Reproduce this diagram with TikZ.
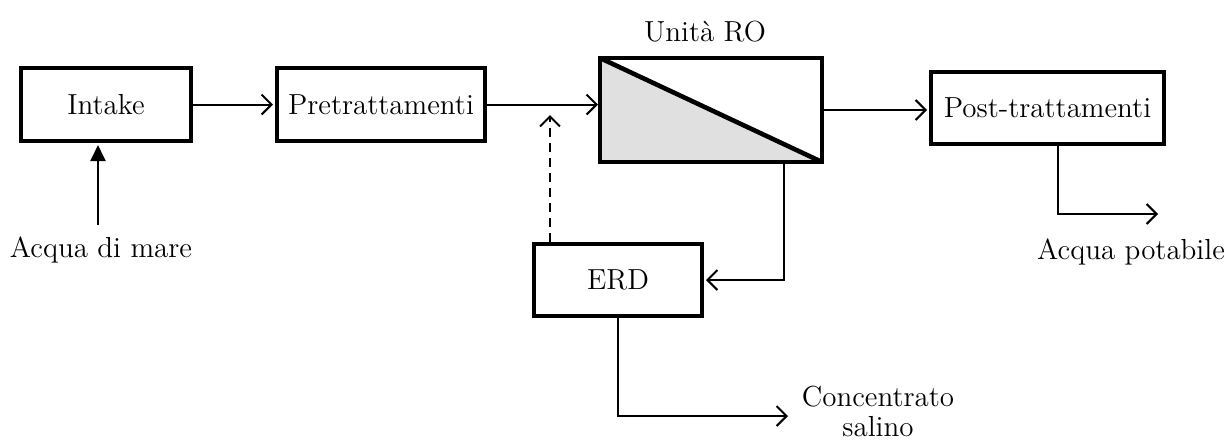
\documentclass[tikz,border=0pt]{standalone}
\usetikzlibrary{arrows.meta}
\begin{document}
\begin{tikzpicture}[x=0.5pt, y=-0.5pt, line width=1pt, shorten >=1pt, >={Straight Barb[length=5pt,width=10pt]},
  main node/.style={rectangle,draw,line width=2pt,inner sep=0pt,font=\fontsize{14.5}{15}\selectfont},
  label node/.style={inner sep=0pt,align=center,font=\fontsize{14.5}{15}\selectfont}]
\useasboundingbox (0,0) rectangle (1225,441);
% process blocks
\node [main node, minimum width=85pt, minimum height=36.5pt] (intake) at (106,104.5) {Intake};
\node [main node, minimum width=104pt, minimum height=36.5pt] (pretr) at (381,104.5) {Pretrattamenti};
\node [main node, draw=none, outer sep=0pt, minimum width=111pt, minimum height=52pt] (ro) at (711,110) {};
\node [main node, minimum width=116.5pt, minimum height=36pt] (post) at (1047.5,108) {Post-trattamenti};
\node [main node, minimum width=84pt, minimum height=36pt] (erd) at (618,280) {ERD};
% membrane symbol
\fill [black!12] (ro.north west) -- (ro.south east) -- (ro.south west) -- cycle;
\draw [line width=2.3pt] (ro.north west) rectangle (ro.south east);
\draw [line width=2.3pt] (ro.north west) -- (ro.south east);
% labels
\node [label node] (sea) at (101,250) {Acqua di mare};
\node [label node] (unita) at (705,32) {Unità RO};
\node [label node] (potab) at (1131,252) {Acqua potabile};
\node [label node] (conc) at (878,411) {Concentrato\\salino};
% flows
\coordinate (sb) at (98,225);
\coordinate (pj) at (550,108);
\coordinate (rej) at (784,0);
\coordinate (brine) at (790,416);
\coordinate (pb) at (1058,0);
\coordinate (prod) at (1160,214);
\draw [-{Triangle[length=8pt,width=7.5pt]}] (sb) -- (sb |- intake.south);
\draw [->] (intake.east) -- (pretr.west);
\draw [->] (pretr.east) -- (pretr.east -| ro.west);
\draw [->] (ro.east) -- (ro.east -| post.west);
\draw [->, dash pattern=on 4.5pt off 3pt] (erd.north -| pj) -- ([yshift=-2.5pt]pj);
\draw [->] (ro.south -| rej) |- (erd.east);
\draw [->] (erd.south) |- (brine);
\draw [->] (post.south -| pb) |- (prod);
\end{tikzpicture}
\end{document}
